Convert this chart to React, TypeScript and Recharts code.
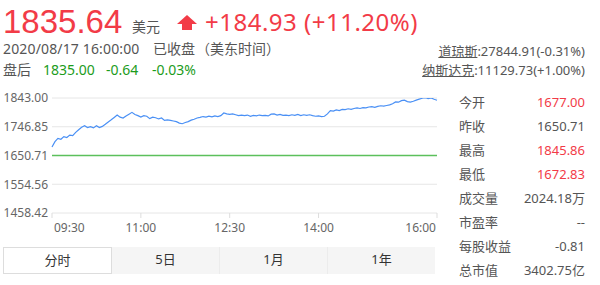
import { CartesianGrid, Line, LineChart, ReferenceLine, XAxis, YAxis } from "recharts";

// minutes after 09:30 and the last price at that minute
const minutes = [
  0, 3, 6, 9, 12, 15, 18, 21, 24, 27, 30, 33, 36, 39, 42, 45, 48, 51, 54, 57,
  60, 63, 66, 69, 72, 75, 78, 81, 84, 87, 90, 93, 96, 99, 102, 105, 108, 111, 114, 117,
  120, 123, 126, 129, 132, 135, 138, 141, 144, 147, 150, 153, 156, 159, 162, 165, 168, 171, 174, 177,
  180, 183, 186, 189, 192, 195, 198, 201, 204, 207, 210, 213, 216, 219, 222, 225, 228, 231, 234, 237,
  240, 243, 246, 249, 252, 255, 258, 261, 264, 267, 270, 273, 276, 279, 282, 285, 288, 291, 294, 297,
  300, 303, 306, 309, 312, 315, 318, 321, 324, 327, 330, 333, 336, 339, 342, 345, 348, 351, 354, 357,
  360, 363, 366, 369, 372, 375, 378, 381, 384, 387, 390,
];
const prices = [
  1679, 1697, 1708, 1705, 1714, 1711, 1719, 1717, 1728, 1737, 1745, 1750, 1744, 1747, 1743, 1750, 1744, 1748, 1755, 1763,
  1770, 1778, 1786, 1779, 1776, 1783, 1789, 1795, 1788, 1784, 1779, 1784, 1782, 1774, 1779, 1777, 1773, 1776, 1768, 1770,
  1768, 1766, 1764, 1759, 1757, 1761, 1764, 1769, 1772, 1776, 1778, 1781, 1779, 1782, 1780, 1783, 1781, 1784, 1793, 1790,
  1788, 1790, 1787, 1784, 1786, 1784, 1786, 1782, 1785, 1783, 1786, 1784, 1785, 1783, 1789, 1790, 1786, 1788, 1785, 1786,
  1784, 1787, 1785, 1788, 1784, 1787, 1785, 1787, 1784, 1782, 1783, 1781, 1782, 1790, 1801, 1799, 1803, 1801, 1805, 1804,
  1807, 1805, 1808, 1810, 1808, 1811, 1810, 1813, 1814, 1812, 1815, 1817, 1816, 1818, 1820, 1824, 1830, 1829, 1834, 1836,
  1831, 1829, 1832, 1836, 1839, 1842, 1845, 1841, 1843, 1839, 1835.64,
];

const prevClose = 1650.71;
const priceTicks = [1458.42, 1554.56, 1650.71, 1746.85, 1843.0];
const timeTicks = [0, 90, 180, 270, 390];
const timeLabels = ["09:30", "11:00", "12:30", "14:00", "16:00"];

const statLabels = ["今开", "昨收", "最高", "最低", "成交量", "市盈率", "每股收益", "总市值"];
const statValues = ["1677.00", "1650.71", "1845.86", "1672.83", "2024.18万", "--", "-0.81", "3402.75亿"];
const statUp = [true, false, true, true, false, false, false, false];

const tabs = ["分时", "5日", "1月", "1年"];

const chartData = minutes.map((m, i) => ({ t: m, price: prices[i] }));

const RED = "#f23b47";
const GREEN = "#1c9c1c";
const GRAY = "#555";

const TimeTick = (props: any) => {
  const { x, y, index } = props;
  const last = index === timeLabels.length - 1;
  const anchor = index === 0 ? "start" : last ? "end" : "middle";
  const dx = index === 0 ? 2 : last ? -1 : 0;
  return (
    <text x={x + dx} y={y} dy="0.71em" textAnchor={anchor} fill="#666" fontSize={12}>
      {timeLabels[index]}
    </text>
  );
};

// place text by baseline (line-height equal to font size); k = baseline offset for the font
const at = (left: number, baseline: number, fs: number, k = 0.888) => ({
  position: "absolute" as const,
  left,
  top: baseline - k * fs,
  fontSize: fs,
  lineHeight: `${fs}px`,
  whiteSpace: "nowrap" as const,
});

export default function App() {
  return (
    <div
      style={{
        position: "absolute",
        left: 0,
        top: 0,
        width: 600,
        height: 285,
        background: "#fff",
        fontFamily: '"Noto Sans", "Noto Sans CJK SC", sans-serif',
        color: GRAY,
        overflow: "hidden",
      }}
    >
      <div style={{ ...at(3, 33, 33, 0.8465), color: RED, fontFamily: '"Liberation Sans", sans-serif' }}>
        1835.64
      </div>
      <div style={{ ...at(132, 32, 14), color: GRAY }}>美元</div>
      <svg style={{ position: "absolute", left: 176, top: 14 }} width={22} height={17}>
        <polygon points="1,10 11,1 21,10" fill={RED} />
        <rect x={6} y={9.5} width={10} height={6.5} fill={RED} />
      </svg>
      <div style={{ ...at(205, 31.5, 24), color: RED, letterSpacing: 0.5 }}>+184.93 (+11.20%)</div>

      <div style={{ ...at(3, 54.5, 14), letterSpacing: 0.15 }}>2020/08/17 16:00:00</div>
      <div style={{ ...at(153, 54.5, 14) }}>已收盘</div>
      <div style={{ ...at(196, 54.5, 14) }}>（美东时间）</div>

      <div style={{ ...at(3, 75.5, 14) }}>盘后</div>
      <div style={{ ...at(43, 75.5, 14), color: GREEN }}>1835.00</div>
      <div style={{ ...at(106, 75.5, 14), color: GREEN }}>-0.64</div>
      <div style={{ ...at(152, 75.5, 14), color: GREEN }}>-0.03%</div>

      <div style={{ ...at(0, 57, 13), left: "auto", right: 15, textAlign: "right" }}>
        <span style={{ textDecoration: "underline" }}>道琼斯</span>:27844.91(-0.31%)
      </div>
      <div style={{ ...at(0, 76, 13), left: "auto", right: 15, textAlign: "right" }}>
        <span style={{ textDecoration: "underline" }}>纳斯达克</span>:11129.73(+1.00%)
      </div>

      <div style={{ position: "absolute", left: 0, top: 88 }}>
        <LineChart width={440} height={150} data={chartData} margin={{ top: 10, right: 3, bottom: 5, left: 0 }}>
          <CartesianGrid vertical={false} stroke="#e6e6e6" />
          <XAxis
            dataKey="t"
            type="number"
            domain={[0, 390]}
            ticks={timeTicks}
            interval={0}
            height={20}
            axisLine={false}
            tickLine={{ stroke: "#ddd" }}
            tickSize={5}
            tickMargin={5}
            tick={<TimeTick />}
          />
          <YAxis
            type="number"
            domain={[priceTicks[0], priceTicks[priceTicks.length - 1]]}
            allowDataOverflow
            ticks={priceTicks}
            interval={0}
            width={52}
            axisLine={false}
            tickLine={false}
            tickSize={2}
            tickMargin={2}
            tick={{ fill: "#666", fontSize: 12 }}
            tickFormatter={(v: number) => v.toFixed(2)}
          />
          <ReferenceLine y={prevClose} stroke="#5cc05c" strokeWidth={1.5} />
          <Line
            type="linear"
            dataKey="price"
            stroke="#4a90f5"
            strokeWidth={1.2}
            dot={false}
            isAnimationActive={false}
          />
        </LineChart>
      </div>

      {statLabels.map((label, i) => (
        <div
          key={label}
          style={{
            position: "absolute",
            left: 459,
            width: 126,
            top: 90 + 24 * i,
            height: 24,
            lineHeight: "24px",
            fontSize: 13,
            display: "flex",
            justifyContent: "space-between",
          }}
        >
          <span>{label}</span>
          <span style={{ color: statUp[i] ? RED : GRAY }}>{statValues[i]}</span>
        </div>
      ))}

      <div style={{ position: "absolute", left: 3, top: 247, width: 432, height: 27, display: "flex" }}>
        {tabs.map((tab, i) => (
          <div
            key={tab}
            style={{
              flex: 1,
              boxSizing: "border-box",
              height: 27,
              lineHeight: "25px",
              textAlign: "center",
              fontSize: 13,
              color: "#333",
              background: i === 0 ? "#fff" : "#f5f5f5",
              border: i === 0 ? "1px solid #ddd" : "none",
              borderLeft: i > 1 ? "1px solid #ececec" : i === 0 ? "1px solid #ddd" : "none",
            }}
          >
            {tab}
          </div>
        ))}
      </div>
    </div>
  );
}
